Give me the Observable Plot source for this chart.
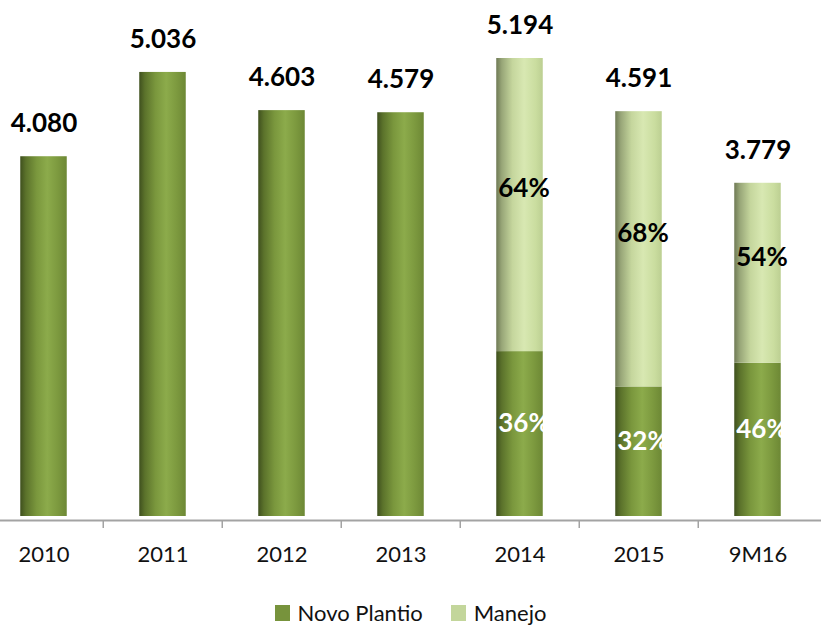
<!DOCTYPE html>
<html><head><meta charset="utf-8">
<script src="https://cdn.jsdelivr.net/npm/d3@7"></script>
<script src="https://cdn.jsdelivr.net/npm/@observablehq/plot@0.6"></script>
<style>
body{margin:0;background:#fff;font-family:Lato,"Open Sans",sans-serif;}
#legend{display:flex;justify-content:center;align-items:center;height:43px;padding-top:12px;box-sizing:border-box;font-size:22px;color:#111;}
#legend .item{display:flex;align-items:center;margin:0 14px;}
#legend .sw{width:15px;height:16px;margin-right:8px;display:inline-block;}
</style>
</head><body>
<div id="chart"></div>
<div id="legend"></div>
<script>
// ---- data ----
const categories = ["2010","2011","2012","2013","2014","2015","9M16"];
const totals = [4080, 5036, 4603, 4579, 5194, 4591, 3779];
const novoPlantioPct = [100, 100, 100, 100, 36, 32, 46];
const manejoPct = [0, 0, 0, 0, 64, 68, 54];
const splitLabelled = [false, false, false, false, true, true, true];
const seriesNames = ["Novo Plantio", "Manejo"];
const seriesColors = ["#77933C", "#C3D69B"];

const fmt = d3.formatLocale({decimal: ",", thousands: ".", grouping: [3], currency: ["", ""]}).format(",");

const rows = categories.map((c, i) => {
  const novo = totals[i] * novoPlantioPct[i] / 100;
  return {cat: c, total: totals[i], novo, manejo: totals[i] - novo,
          novoPct: novoPlantioPct[i], manejoPct: manejoPct[i], split: splitLabelled[i]};
});
const novoSeg = rows.map(r => ({cat: r.cat, y1: 0, y2: r.novo, pct: r.novoPct, split: r.split}));
const manejoSeg = rows.filter(r => r.manejo > 0).map(r => ({cat: r.cat, y1: r.novo, y2: r.total, pct: r.manejoPct, split: r.split}));

const W = 821, H = 585;
const step = 119.5;
const xLeft = 42 - step / 2;

const plot = Plot.plot({
  width: W, height: H,
  marginLeft: 0, marginRight: 0, marginTop: 10, marginBottom: 65,
  style: {fontFamily: "Lato, 'Open Sans', sans-serif", background: "#fff", overflow: "visible"},
  x: {type: "band", domain: categories, range: [xLeft, xLeft + step * categories.length], padding: 0, label: null},
  y: {domain: [0, 5194], range: [516, 58], axis: null},
  marks: [
    Plot.ruleY([0], {stroke: "#a3a3a3", strokeWidth: 2, dy: 4}),
    Plot.axisX({tickSize: 8, text: null, label: null, dx: -step / 2, stroke: "#a3a3a3", strokeWidth: 1.5}),
    Plot.axisX({tickSize: 0, tickPadding: 26, label: null, fontSize: 22, fill: "#111"}),
    Plot.tickY(rows, {x: "cat", y: 0, dy: 1, insetLeft: 30, insetRight: 20, stroke: "#888", strokeWidth: 7, strokeOpacity: 0.6}),
    Plot.barY(novoSeg, {x: "cat", y1: "y1", y2: "y2", fill: "url(#gDark)", insetLeft: 36.25, insetRight: 36.25}),
    Plot.barY(manejoSeg, {x: "cat", y1: "y1", y2: "y2", fill: "url(#gLight)", insetLeft: 36.25, insetRight: 36.25}),
    Plot.text(rows, {x: "cat", y: "total", text: d => fmt(d.total), dy: -33, fontSize: 26, fontWeight: "bold", fill: "#000"}),
    Plot.text(manejoSeg.filter(d => d.split), {x: "cat", y: d => (d.y1 + d.y2) / 2, text: d => d.pct + "%", dy: -16, dx: 4, fontSize: 26, fontWeight: "bold", fill: "#000"}),
    Plot.text(novoSeg.filter(d => d.split), {x: "cat", y: d => (d.y1 + d.y2) / 2, text: d => d.pct + "%", dy: -10, dx: 4, fontSize: 26, fontWeight: "bold", fill: "#fff"})
  ]
});

// gradients for the cylinder look
const svg = d3.select(plot);
const defs = svg.insert("defs", ":first-child");
function grad(id, stops) {
  const g = defs.append("linearGradient").attr("id", id).attr("x1", 0).attr("x2", 1).attr("y1", 0).attr("y2", 0);
  stops.forEach(([o, c]) => g.append("stop").attr("offset", o).attr("stop-color", c));
}
grad("gDark", [[0, "#3f501e"], [0.12, "#5b722b"], [0.35, "#7a973d"], [0.58, "#8cab4b"], [0.8, "#7d9a3f"], [1, "#6d8835"]]);
grad("gLight", [[0, "#6f7a55"], [0.12, "#98a678"], [0.35, "#c5d69d"], [0.6, "#d8e8b2"], [0.85, "#cadd9f"], [1, "#bccf92"]]);
defs.append("filter").attr("id", "blur").attr("x", "-50%").attr("y", "-200%").attr("width", "200%").attr("height", "500%")
  .append("feGaussianBlur").attr("stdDeviation", 3);
svg.selectAll('g[aria-label="tick"]').attr("filter", "url(#blur)");

document.getElementById("chart").appendChild(plot);

const lg = d3.select("#legend");
seriesNames.forEach((n, i) => {
  const it = lg.append("div").attr("class", "item");
  it.append("span").attr("class", "sw").style("background", seriesColors[i]);
  it.append("span").text(n);
});
</script>
</body></html>
